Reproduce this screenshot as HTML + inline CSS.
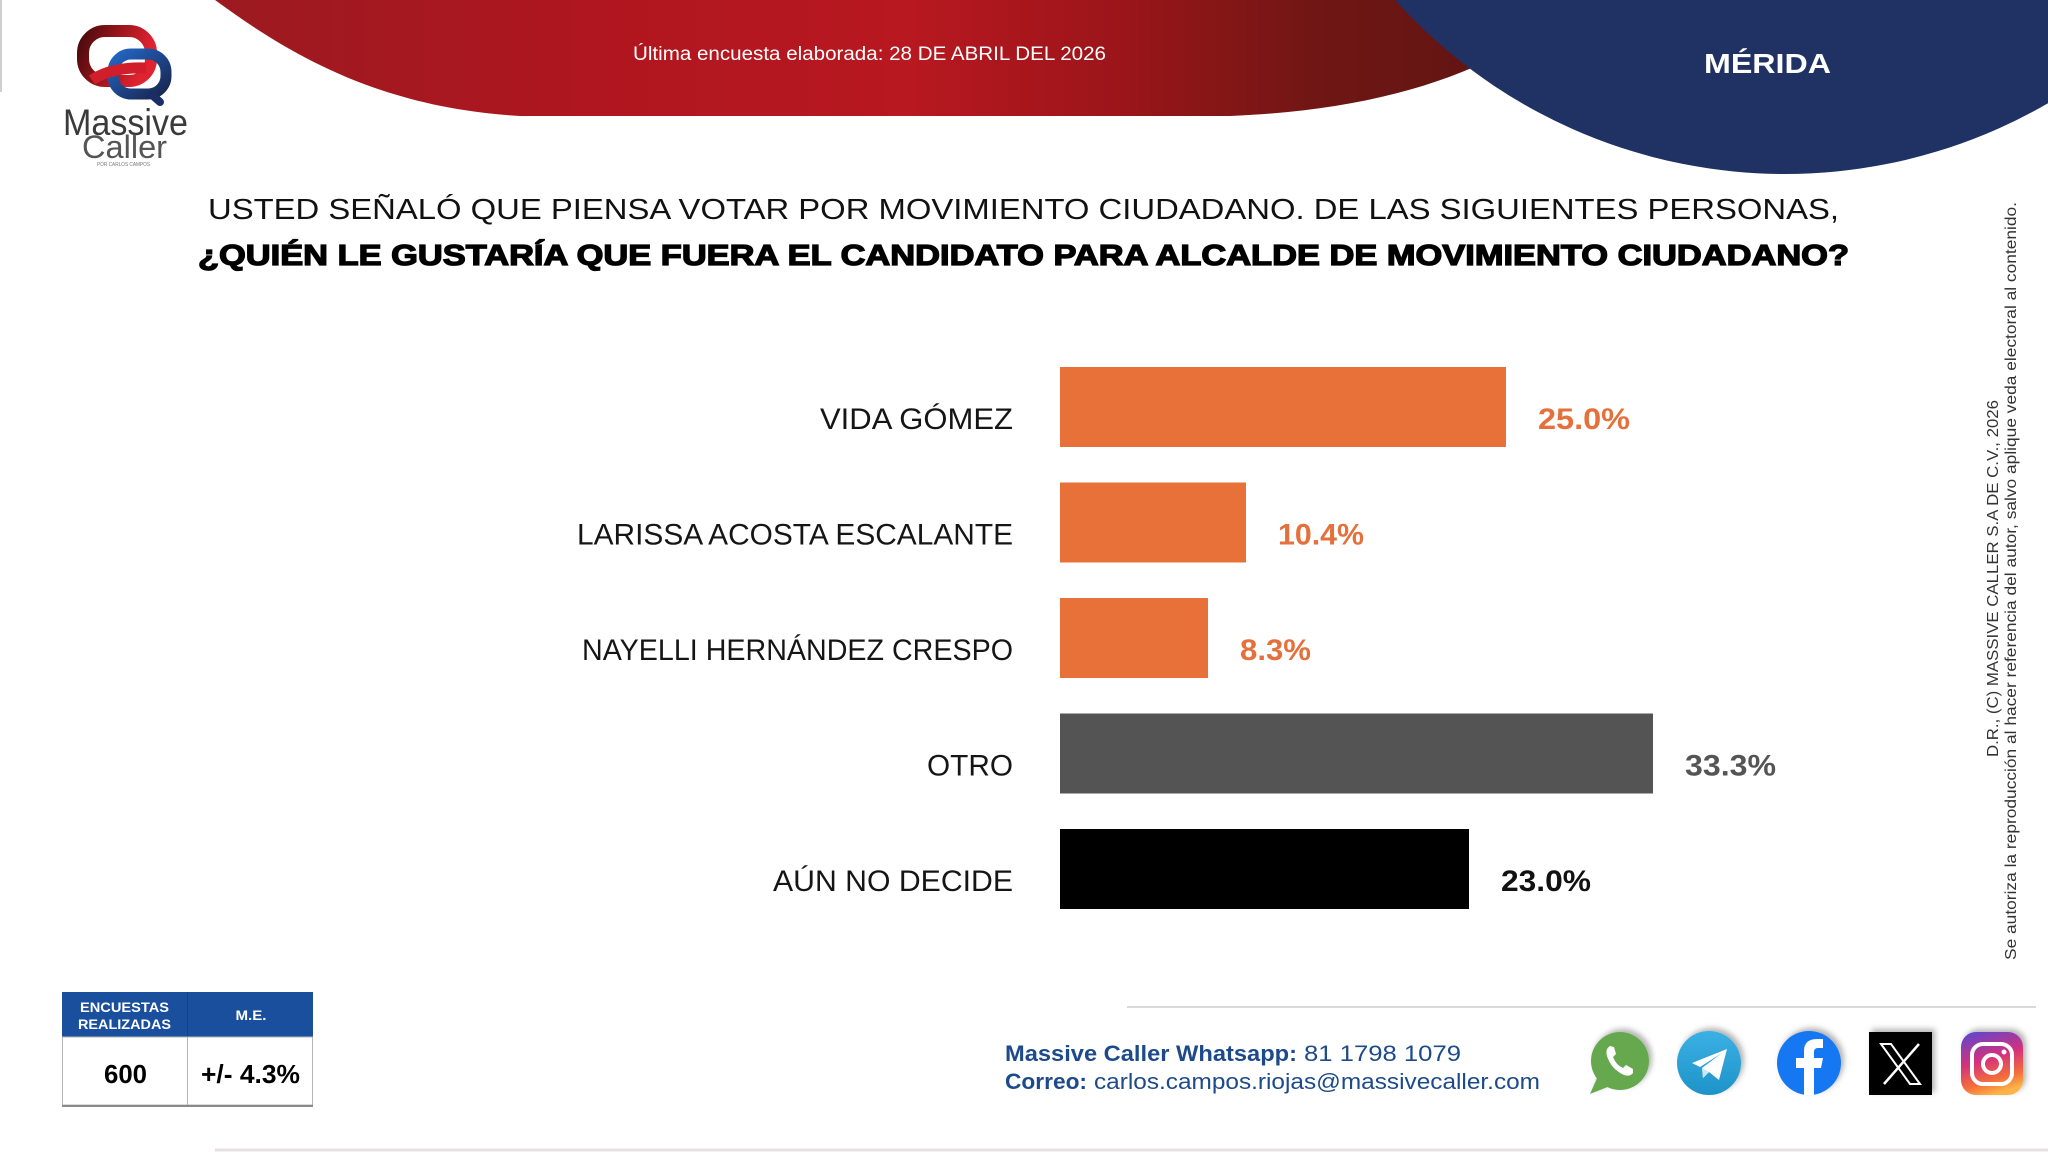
<!DOCTYPE html>
<html><head><meta charset="utf-8"><style>
html,body{margin:0;padding:0;background:#fff;}
svg{display:block;}
text{font-family:"Liberation Sans",Arial,sans-serif;}
</style></head><body>
<svg width="2048" height="1152" viewBox="0 0 2048 1152" xmlns="http://www.w3.org/2000/svg">
<defs>
<linearGradient id="rg" gradientUnits="userSpaceOnUse" x1="215" y1="0" x2="1480" y2="0">
<stop offset="0" stop-color="#9b1a20"/>
<stop offset="0.3" stop-color="#b0161f"/>
<stop offset="0.55" stop-color="#b81820"/>
<stop offset="0.72" stop-color="#9a1519"/>
<stop offset="0.87" stop-color="#701614"/>
<stop offset="1" stop-color="#621513"/>
</linearGradient>
<linearGradient id="lr" x1="0" y1="0" x2="1" y2="0.3">
<stop offset="0" stop-color="#4a0b0d"/><stop offset="0.55" stop-color="#a3161d"/><stop offset="1" stop-color="#e02330"/>
</linearGradient>
<linearGradient id="lb" x1="0" y1="0" x2="1" y2="1">
<stop offset="0" stop-color="#2366c4"/><stop offset="1" stop-color="#18264f"/>
</linearGradient>
<linearGradient id="tg" x1="0" y1="0" x2="0" y2="1">
<stop offset="0" stop-color="#3ab0e4"/><stop offset="1" stop-color="#1e93c8"/>
</linearGradient>
<linearGradient id="ig" x1="0.2" y1="0" x2="0.5" y2="1">
<stop offset="0" stop-color="#6446cc"/><stop offset="0.45" stop-color="#d4307c"/><stop offset="0.8" stop-color="#f5703a"/><stop offset="1" stop-color="#fbb446"/>
</linearGradient>
<filter id="sh" x="-30%" y="-30%" width="160%" height="160%">
<feDropShadow dx="3" dy="-3" stdDeviation="3" flood-color="#000" flood-opacity="0.3"/>
</filter>
</defs>

<rect width="2048" height="1152" fill="#fff"/>
<line x1="1" y1="0" x2="1" y2="92" stroke="#cfcfcf" stroke-width="2"/>

<!-- red banner -->
<path d="M215 0 C 290 55, 380 108, 520 116 L 1230 116 C 1330 112, 1420 95, 1500 55 L 1560 0 Z" fill="url(#rg)"/>
<!-- blue circle -->
<circle cx="1785" cy="-350" r="524" fill="#203263"/>

<text x="633" y="60" font-size="19" fill="#fff" textLength="473" lengthAdjust="spacingAndGlyphs">Última encuesta elaborada: 28 DE ABRIL DEL 2026</text>
<text x="1704" y="73" font-size="28" font-weight="bold" fill="#fff" textLength="127" lengthAdjust="spacingAndGlyphs">MÉRIDA</text>

<!-- logo -->
<rect x="83" y="31" width="68" height="50" rx="22" fill="none" stroke="url(#lr)" stroke-width="12"/>
<rect x="113" y="54" width="53" height="40" rx="18" fill="none" stroke="url(#lb)" stroke-width="11"/>
<path d="M152 95 L160 102" stroke="#1b2d66" stroke-width="8" stroke-linecap="round"/>
<path d="M92 80 C 105 71, 125 67, 146 68" fill="none" stroke="#d01f2b" stroke-width="11"/>
<text x="63" y="135" font-size="37" fill="#3a3a3a" textLength="125" lengthAdjust="spacingAndGlyphs">Massive</text>
<text x="82" y="158" font-size="32" fill="#555" textLength="85" lengthAdjust="spacingAndGlyphs">Caller</text>
<text x="97" y="166" font-size="5" fill="#777" textLength="53" lengthAdjust="spacingAndGlyphs">POR CARLOS CAMPOS</text>

<!-- titles -->
<text x="208" y="219" font-size="29" fill="#111" textLength="1631" lengthAdjust="spacingAndGlyphs">USTED SEÑALÓ QUE PIENSA VOTAR POR MOVIMIENTO CIUDADANO. DE LAS SIGUIENTES PERSONAS,</text>
<text x="198" y="265" font-size="29" font-weight="bold" fill="#000" stroke="#000" stroke-width="1.3" textLength="1651" lengthAdjust="spacingAndGlyphs">¿QUIÉN LE GUSTARÍA QUE FUERA EL CANDIDATO PARA ALCALDE DE MOVIMIENTO CIUDADANO?</text>

<!-- bars -->
<rect x="1060" y="367" width="446" height="80" fill="#e8713a"/>
<rect x="1060" y="482.5" width="186" height="80" fill="#e8713a"/>
<rect x="1060" y="598" width="148" height="80" fill="#e8713a"/>
<rect x="1060" y="713.5" width="593" height="80" fill="#545454"/>
<rect x="1060" y="829" width="409" height="80" fill="#000"/>

<g font-size="30" fill="#151515" text-anchor="end">
<text x="1013" y="429" textLength="193" lengthAdjust="spacingAndGlyphs">VIDA GÓMEZ</text>
<text x="1013" y="544.5" textLength="436" lengthAdjust="spacingAndGlyphs">LARISSA ACOSTA ESCALANTE</text>
<text x="1013" y="660" textLength="431" lengthAdjust="spacingAndGlyphs">NAYELLI HERNÁNDEZ CRESPO</text>
<text x="1013" y="775.5" textLength="86" lengthAdjust="spacingAndGlyphs">OTRO</text>
<text x="1013" y="891" textLength="240" lengthAdjust="spacingAndGlyphs">AÚN NO DECIDE</text>
</g>
<g font-size="30" font-weight="bold">
<text x="1538" y="429" fill="#e5703b" textLength="92" lengthAdjust="spacingAndGlyphs">25.0%</text>
<text x="1278" y="544.5" fill="#e5703b" textLength="86" lengthAdjust="spacingAndGlyphs">10.4%</text>
<text x="1240" y="660" fill="#e5703b" textLength="71" lengthAdjust="spacingAndGlyphs">8.3%</text>
<text x="1685" y="775.5" fill="#555" textLength="91" lengthAdjust="spacingAndGlyphs">33.3%</text>
<text x="1501" y="891" fill="#111" textLength="90" lengthAdjust="spacingAndGlyphs">23.0%</text>
</g>

<!-- vertical copyright -->
<text transform="translate(1998,757) rotate(-90)" font-size="16" fill="#333" textLength="357" lengthAdjust="spacingAndGlyphs">D.R., (C) MASSIVE CALLER S.A DE C.V., 2026</text>
<text transform="translate(2016,960) rotate(-90)" font-size="16" fill="#333" textLength="758" lengthAdjust="spacingAndGlyphs">Se autoriza la reproducción al hacer referencia del autor, salvo aplique veda electoral al contenido.</text>

<!-- table -->
<rect x="62" y="992" width="251" height="45" fill="#1a4f9e"/>
<line x1="187.5" y1="992" x2="187.5" y2="1037" stroke="#163f80" stroke-width="1"/>
<rect x="62.5" y="1037" width="250" height="68" fill="#fff" stroke="#b5b5b5" stroke-width="1"/>
<line x1="187.5" y1="1037" x2="187.5" y2="1105" stroke="#b5b5b5" stroke-width="1"/>
<line x1="62" y1="1106" x2="313" y2="1106" stroke="#8a8a8a" stroke-width="2"/>
<g font-weight="bold" fill="#fff" font-size="14" text-anchor="middle">
<text x="124.5" y="1012" textLength="89" lengthAdjust="spacingAndGlyphs">ENCUESTAS</text>
<text x="124.5" y="1029" textLength="93" lengthAdjust="spacingAndGlyphs">REALIZADAS</text>
<text x="251" y="1020" textLength="31" lengthAdjust="spacingAndGlyphs">M.E.</text>
</g>
<g font-weight="bold" fill="#000" font-size="26" text-anchor="middle">
<text x="125.5" y="1083" textLength="43" lengthAdjust="spacingAndGlyphs">600</text>
<text x="250.5" y="1083" textLength="99" lengthAdjust="spacingAndGlyphs">+/- 4.3%</text>
</g>

<!-- lines -->
<line x1="1127" y1="1007" x2="2036" y2="1007" stroke="#d9d9d9" stroke-width="2"/>
<line x1="215" y1="1150" x2="2048" y2="1150" stroke="#e6e0e3" stroke-width="3"/>

<!-- contact -->
<g font-size="22" fill="#1d4a8a">
<text x="1005" y="1061" font-weight="bold" textLength="292" lengthAdjust="spacingAndGlyphs">Massive Caller Whatsapp:</text>
<text x="1304" y="1061" textLength="157" lengthAdjust="spacingAndGlyphs">81 1798 1079</text>
<text x="1005" y="1089" font-weight="bold" textLength="82" lengthAdjust="spacingAndGlyphs">Correo:</text>
<text x="1094" y="1089" textLength="446" lengthAdjust="spacingAndGlyphs">carlos.campos.riojas@massivecaller.com</text>
</g>

<!-- icons -->
<g filter="url(#sh)">
<circle cx="1620" cy="1061" r="29" fill="#66a84d"/>
<path d="M1598 1076 L1590 1094 L1610 1086 Z" fill="#66a84d"/>
</g>
<path d="M1610 1046 q-5 3 -3 10 q4 13 17 19 q6 2 9 -2 l0 -4 l-7 -4 l-3 3 q-7 -3 -10 -11 l3 -3 l-2 -7 z" fill="#fff"/>

<g filter="url(#sh)"><circle cx="1709" cy="1063" r="32" fill="url(#tg)"/></g>
<path d="M1692 1063 L1727 1049 L1719 1080 L1709 1072 L1703 1078 L1702 1068 L1722 1053 L1700 1067 Z" fill="#fff"/>
<path d="M1702 1068 L1703 1078 L1709 1072 Z" fill="#c8e6f5"/>

<g filter="url(#sh)"><circle cx="1809" cy="1063" r="32" fill="#1877f2"/></g>
<path d="M1804 1095 V1068 H1796 V1058 H1804 V1051 q0 -12 13 -12 h6 v9 h-5 q-4 0 -4 4 v6 h9 l-2 10 h-7 v27 z" fill="#fff"/>

<g filter="url(#sh)"><rect x="1869" y="1032" width="63" height="63" fill="#000"/></g>
<path d="M1881 1044 h10 l29 40 h-10 z" fill="none" stroke="#fff" stroke-width="2"/>
<line x1="1919" y1="1044" x2="1884" y2="1084" stroke="#fff" stroke-width="2.5"/>

<g filter="url(#sh)"><rect x="1961" y="1032" width="62" height="63" rx="15" fill="url(#ig)"/></g>
<rect x="1972" y="1044" width="40" height="40" rx="11" fill="none" stroke="#fff" stroke-width="4"/>
<circle cx="1992" cy="1064" r="9" fill="none" stroke="#fff" stroke-width="4"/>
<circle cx="2004" cy="1052" r="2.5" fill="#fff"/>
</svg>
</body></html>
